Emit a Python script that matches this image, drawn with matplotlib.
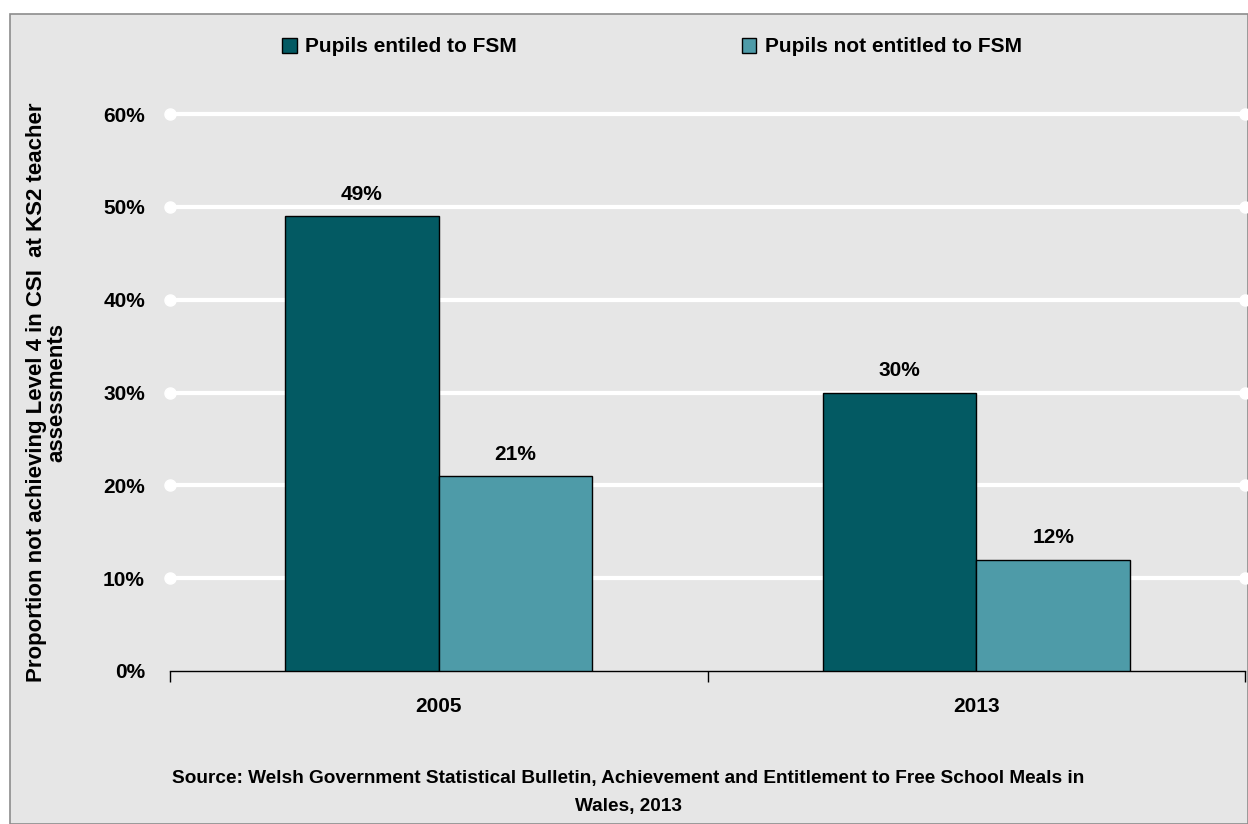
import numpy as np
import matplotlib.pyplot as plt
from matplotlib.patches import Rectangle

# --- data ---
years = ['2005', '2013']
fsm = [0.49, 0.30]
not_fsm = [0.21, 0.12]
series_names = ['Pupils entiled to FSM', 'Pupils not entitled to FSM']
colors = ['#035a63', '#4e9ba8']
yticks = [0, 0.1, 0.2, 0.3, 0.4, 0.5, 0.6]

plt.rcParams['font.family'] = ['Liberation Sans Narrow', 'Liberation Sans', 'DejaVu Sans']
plt.rcParams['font.weight'] = 'bold'

W, H = 1248, 824
fig = plt.figure(figsize=(W / 100, H / 100), dpi=100)
fig.patch.set_facecolor('white')

# grey chart area with thin border (behind everything)
fig.patches.append(Rectangle((10 / W, 0), 1 - 10 / W, 1 - 14 / H, transform=fig.transFigure,
                             facecolor='#e6e6e6', edgecolor='#8c8c8c', linewidth=1.2, zorder=-10))

ax = fig.add_axes([170 / W, 1 - 671 / H, (1245 - 170) / W, (671 - 114) / H])
ax.set_facecolor('none')
x = np.arange(len(years))
bw = 0.286

# gridlines with round dots at both ends
for t in yticks[1:]:
    ax.plot([-0.5, 1.5], [t, t], color='white', lw=3, zorder=1, clip_on=False)
    ax.plot([-0.5, 1.5], [t, t], ls='none', marker='o', ms=8, color='white',
            zorder=1, clip_on=False)

b1 = ax.bar(x - bw / 2, fsm, bw, color=colors[0], edgecolor='black', linewidth=1, zorder=3)
b2 = ax.bar(x + bw / 2, not_fsm, bw, color=colors[1], edgecolor='black', linewidth=1, zorder=3)
for bars in (b1, b2):
    for r in bars:
        ax.annotate(f'{r.get_height() * 100:.0f}%', (r.get_x() + r.get_width() / 2, r.get_height()),
                    xytext=(0, 9), textcoords='offset points', ha='center', va='bottom',
                    fontsize=15, fontweight='bold')

ax.set_xlim(-0.5, 1.5)
ax.set_ylim(0, 0.6)
for s in ['top', 'right', 'left']:
    ax.spines[s].set_visible(False)
ax.spines['bottom'].set_color('black')
ax.spines['bottom'].set_linewidth(1)

ax.set_xticks(x)
ax.set_xticklabels(years, fontsize=15, fontweight='bold')
ax.set_xticks([-0.5, 0.5, 1.5], minor=True)
ax.tick_params(axis='x', which='major', length=0, pad=19)
ax.tick_params(axis='x', which='minor', length=8, width=1, direction='out')

ax.set_yticks(yticks)
ax.set_yticklabels([f'{int(round(t * 100))}%' for t in yticks], fontsize=15, fontweight='bold')
ax.tick_params(axis='y', length=0, pad=18)

ax.set_ylabel('Proportion not achieving Level 4 in CSI  at KS2 teacher\nassessments',
              fontsize=16, fontweight='bold', linespacing=1.0)
ax.yaxis.set_label_coords(-0.095, 0.5)

handles = [Rectangle((0, 0), 1, 1, facecolor=c, edgecolor='black', lw=1) for c in colors]
fig.legend(handles, series_names, loc='center', bbox_to_anchor=(0.5224, 1 - 47 / H), ncol=2,
           frameon=False, fontsize=15, handlelength=0.7, handleheight=0.7,
           handletextpad=0.4, columnspacing=10.8)

fig.text(628 / W, 1 - 778 / H, 'Source: Welsh Government Statistical Bulletin, Achievement and Entitlement to Free School Meals in',
         ha='center', va='center', fontsize=13.7, fontweight='bold')
fig.text(628 / W, 1 - 806 / H, 'Wales, 2013', ha='center', va='center', fontsize=13.7, fontweight='bold')

fig.savefig('out.png', dpi=100)
